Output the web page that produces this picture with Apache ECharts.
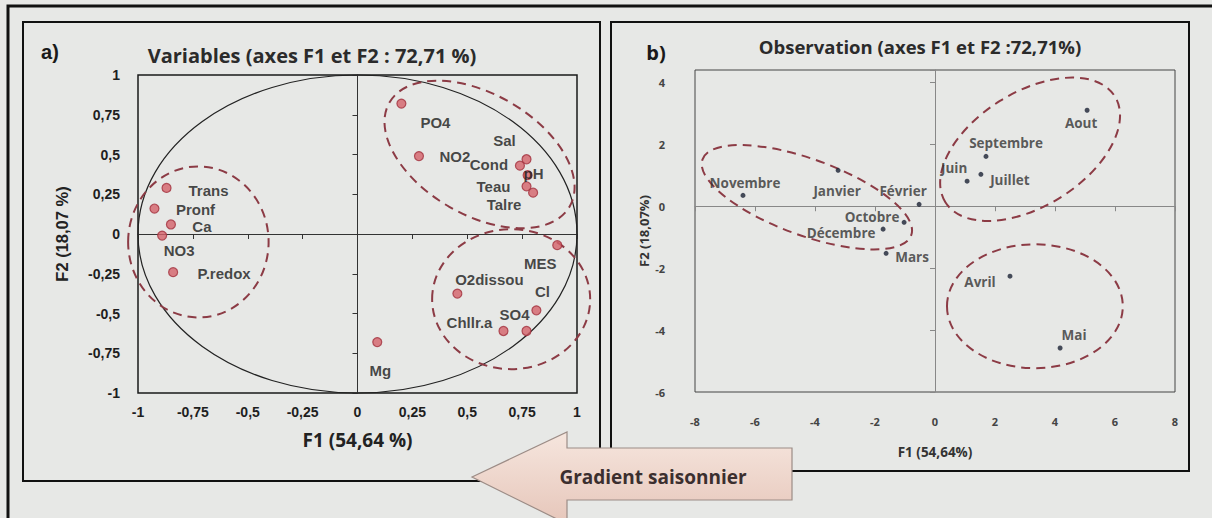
<!DOCTYPE html>
<html><head><meta charset="utf-8">
<script src="https://cdn.jsdelivr.net/npm/echarts@6/dist/echarts.min.js"></script>
<style>html,body{margin:0;padding:0;background:#e7e8e6;}#c{width:1212px;height:518px;}</style>
</head><body><div id="c"></div>
<script>
// ---------- data: a) variables (correlation circle) ----------
const varNames = ['PO4','NO2','Sal','Cond','pH','Teau','Talre','Trans','Pronf','Ca','NO3','P.redox','Mg','MES','O2dissou','Cl','SO4','Chllr.a'];
const varF1 = [0.20, 0.28, 0.77, 0.74, 0.775, 0.77, 0.80, -0.87, -0.925, -0.85, -0.89, -0.84, 0.09, 0.91, 0.455, 0.815, 0.77, 0.665];
const varF2 = [0.82, 0.49, 0.47, 0.43, 0.37, 0.30, 0.26, 0.29, 0.16, 0.06, -0.01, -0.24, -0.68, -0.07, -0.375, -0.48, -0.61, -0.61];
// groups (dashed ellipses): [centre F1, centre F2, half-width, half-height, tilt deg]
const varGroups = [[-0.725, -0.05, 0.32, 0.475, 0], [0.556, 0.50, 0.474, 0.38, -30], [0.70, -0.41, 0.36, 0.44, 0]];
const varCircle = [[0, 0, 1, 1, 0]];
const varAxisX = {min: -1, max: 1, step: 0.25};
const varAxisY = {min: -1, max: 1, step: 0.25};

// ---------- data: b) observations (months) ----------
const obsNames = ['Novembre','Janvier','Février','Octobre','Décembre','Mars','Aout','Septembre','Juin','Juillet','Avril','Mai'];
const obsF1 = [-6.4, -3.23, -0.53, -1.03, -1.73, -1.63, 5.07, 1.70, 1.07, 1.53, 2.5, 4.17];
const obsF2 = [0.35, 1.16, 0.06, -0.52, -0.74, -1.52, 3.10, 1.61, 0.81, 1.03, -2.26, -4.58];
const obsGroups = [[-4.27, 0.29, 3.7, 1.23, -20], [3.17, 1.84, 3.33, 1.84, 32], [3.33, -3.23, 2.93, 2.0, 0]];
const obsAxisX = {min: -8, max: 8, step: 2};
const obsAxisY = {min: -6, max: 4.4, step: 2};

// ---------- label placement (style) ----------
const varLabelOffset = {'PO4':[34,19],'NO2':[36,0],'Sal':[-22,-19],'Cond':[-31,-1],'pH':[6,-2],'Teau':[-33,0],'Talre':[-29,12],
  'Trans':[42,3],'Pronf':[41,1],'Ca':[31,2],'NO3':[17,15],'P.redox':[51,1],'Mg':[3,28],'MES':[-17,18],'O2dissou':[32,-14],
  'Cl':[6,-19],'SO4':[-12,-16],'Chllr.a':[-34,-8]};
const obsLabelOffset = {'Novembre':[2,-12],'Janvier':[-1,21],'Février':[-16,-13],'Octobre':[-32,-5],'Décembre':[-42,4],
  'Mars':[26,4],'Aout':[-6,13],'Septembre':[20,-13],'Juin':[-13,-13],'Juillet':[29,6],'Avril':[-30,6],'Mai':[14,-13]};

const comma = v => String(v).replace('.', ',');
const boldArial = {fontFamily:'Liberation Sans', fontWeight:'bold'};
const boldCal = {fontFamily:'Open Sans', fontWeight:'bold'};

function ellipseRender(stroke, width, dash) {
  return function (params, api) {
    const c = api.coord([api.value(0), api.value(1)]);
    const s = api.size([api.value(2), api.value(3)]);
    return {type:'ellipse', x:c[0], y:c[1], rotation:api.value(4) * Math.PI / 180,
      shape:{cx:0, cy:0, rx:s[0], ry:s[1]},
      style:{fill:'none', stroke:stroke, lineWidth:width, lineDash:dash}};
  };
}

const chart = echarts.init(document.getElementById('c'), null, {renderer:'svg'});
chart.setOption({
  backgroundColor:'#e7e8e6',
  animation:false,
  grid:[
    {left:138, top:75, width:439, height:318, show:true, borderColor:'#1a1a1a', borderWidth:1.5, backgroundColor:'transparent'},
    {left:695, top:70, width:480, height:322, show:true, borderColor:'#444', borderWidth:1, backgroundColor:'transparent'}
  ],
  xAxis:[
    {gridIndex:0, type:'value', min:varAxisX.min, max:varAxisX.max, interval:varAxisX.step, position:'bottom',
     axisLine:{show:false, onZero:false}, axisTick:{show:false}, splitLine:{show:false},
     axisLabel:Object.assign({formatter:comma, margin:12, color:'#1e1e1e', fontSize:14}, boldArial),
     name:'F1 (54,64 %)', nameLocation:'middle', nameGap:37, nameTextStyle:Object.assign({fontSize:19, color:'#222'}, boldCal)},
    {gridIndex:0, type:'value', min:varAxisX.min, max:varAxisX.max, interval:varAxisX.step, position:'bottom',
     axisLine:{show:true, onZero:true, lineStyle:{color:'#333', width:1}}, axisTick:{show:true, length:5, lineStyle:{color:'#333'}},
     axisLabel:{show:false}, splitLine:{show:false}},
    {gridIndex:1, type:'value', min:obsAxisX.min, max:obsAxisX.max, interval:obsAxisX.step, position:'bottom',
     axisLine:{show:false, onZero:false}, axisTick:{show:false}, splitLine:{show:false},
     axisLabel:Object.assign({margin:24, color:'#444', fontSize:11}, boldCal),
     name:'F1 (54,64%)', nameLocation:'middle', nameGap:53, nameTextStyle:Object.assign({fontSize:13.5, color:'#333'}, boldCal)},
    {gridIndex:1, type:'value', min:obsAxisX.min, max:obsAxisX.max, interval:obsAxisX.step, position:'bottom',
     axisLine:{show:true, onZero:true, lineStyle:{color:'#888', width:1}}, axisTick:{show:true, length:5, lineStyle:{color:'#888'}},
     axisLabel:{show:false}, splitLine:{show:false}}
  ],
  yAxis:[
    {gridIndex:0, type:'value', min:varAxisY.min, max:varAxisY.max, interval:varAxisY.step, position:'left',
     axisLine:{show:false, onZero:false}, axisTick:{show:false}, splitLine:{show:false},
     axisLabel:Object.assign({formatter:comma, margin:18, color:'#1e1e1e', fontSize:14}, boldArial),
     name:'F2 (18,07 %)', nameLocation:'middle', nameGap:68, nameTextStyle:Object.assign({fontSize:16.5, color:'#222'}, boldArial)},
    {gridIndex:0, type:'value', min:varAxisY.min, max:varAxisY.max, interval:varAxisY.step, position:'left',
     axisLine:{show:true, onZero:true, lineStyle:{color:'#333', width:1}}, axisTick:{show:true, length:5, lineStyle:{color:'#333'}},
     axisLabel:{show:false}, splitLine:{show:false}},
    {gridIndex:1, type:'value', min:obsAxisY.min, max:obsAxisY.max, interval:obsAxisY.step, position:'left',
     axisLine:{show:false, onZero:false}, axisTick:{show:false}, splitLine:{show:false},
     axisLabel:Object.assign({margin:30, color:'#444', fontSize:11, showMaxLabel:false}, boldCal),
     name:'F2 (18,07%)', nameLocation:'middle', nameGap:45, nameTextStyle:Object.assign({fontSize:13, color:'#333'}, boldCal)},
    {gridIndex:1, type:'value', min:obsAxisY.min, max:obsAxisY.max, interval:obsAxisY.step, position:'left',
     axisLine:{show:true, onZero:true, lineStyle:{color:'#888', width:1}}, axisTick:{show:true, length:5, lineStyle:{color:'#888'}},
     axisLabel:{show:false}, splitLine:{show:false}}
  ],
  series:[
    {type:'custom', xAxisIndex:0, yAxisIndex:0, silent:true, z:1, data:varCircle,
     renderItem:ellipseRender('#222', 1.2, null)},
    {type:'custom', xAxisIndex:0, yAxisIndex:0, silent:true, z:2, data:varGroups,
     renderItem:ellipseRender('#8c3b45', 2, [9, 6])},
    {type:'custom', xAxisIndex:2, yAxisIndex:2, silent:true, z:2, data:obsGroups,
     renderItem:ellipseRender('#8c3b45', 2, [9, 6])},
    {type:'scatter', xAxisIndex:0, yAxisIndex:0, symbolSize:9, z:5,
     itemStyle:{color:'#d4616a', borderColor:'#a3323f', borderWidth:1.2},
     label:Object.assign({show:true, position:'inside', formatter:'{b}', color:'#1a1a1a', fontSize:15}, boldArial),
     data:varNames.map((n, i) => ({name:n, value:[varF1[i], varF2[i]], label:{offset:varLabelOffset[n]}}))},
    {type:'scatter', xAxisIndex:2, yAxisIndex:2, symbolSize:5, z:5,
     itemStyle:{color:'#1b2235'},
     label:Object.assign({show:true, position:'inside', formatter:'{b}', color:'#333', fontSize:13.5}, boldCal),
     data:obsNames.map((n, i) => ({name:n, value:[obsF1[i], obsF2[i]], label:{offset:obsLabelOffset[n]}}))}
  ],
  graphic:[
    {type:'polyline', z:10, silent:true, shape:{points:[[8,518],[8,6],[1212,6]]}, style:{fill:'none', stroke:'#111', lineWidth:3}},
    {type:'rect', z:10, silent:true, shape:{x:23, y:22, width:577, height:459}, style:{fill:'none', stroke:'#111', lineWidth:2}},
    {type:'rect', z:10, silent:true, shape:{x:611, y:22, width:578, height:449}, style:{fill:'none', stroke:'#111', lineWidth:2}},
    {type:'polygon', z:20, silent:true,
     shape:{points:[[472,477],[567,432],[567,448],[792,448],[792,500],[567,500],[567,524]]},
     style:{fill:new echarts.graphic.LinearGradient(0, 0, 0, 1, [{offset:0, color:'#f6e6de'}, {offset:1, color:'#e6c6ba'}]),
            stroke:'#9c8c86', lineWidth:1.2}},
    {type:'text', z:21, silent:true, style:{text:'Gradient saisonnier', x:653, y:477, textAlign:'center', textVerticalAlign:'middle',
     font:'bold 19px "Open Sans"', fill:'#3b2f2f'}},
    {type:'text', z:21, silent:true, style:{text:'a)', x:50, y:52, textAlign:'center', textVerticalAlign:'middle',
     font:'bold 20px "Liberation Sans"', fill:'#1a1a1a'}},
    {type:'text', z:21, silent:true, style:{text:'Variables (axes F1 et F2 : 72,71 %)', x:312, y:55, textAlign:'center', textVerticalAlign:'middle',
     font:'bold 20px "Open Sans"', fill:'#2b2b2b'}},
    {type:'text', z:21, silent:true, style:{text:'b)', x:656, y:52, textAlign:'center', textVerticalAlign:'middle',
     font:'bold 20px "Open Sans"', fill:'#1a1a1a'}},
    {type:'text', z:21, silent:true, style:{text:'Observation (axes F1 et F2 :72,71%)', x:920, y:46, textAlign:'center', textVerticalAlign:'middle',
     font:'bold 18.5px "Open Sans"', fill:'#2b2b2b'}}
  ]
});
</script></body></html>
